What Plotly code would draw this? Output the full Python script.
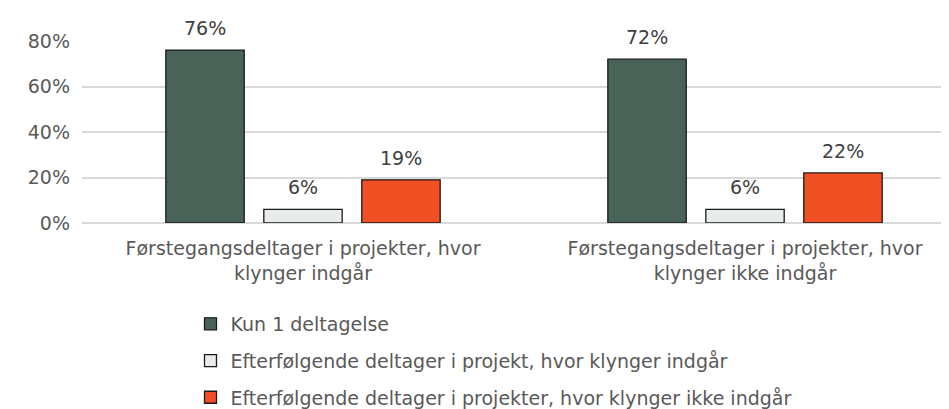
import plotly.graph_objects as go

categories = ["Førstegangsdeltager i projekter, hvor<br>klynger indgår",
              "Førstegangsdeltager i projekter, hvor<br>klynger ikke indgår"]
series_names = ["Kun 1 deltagelse",
                "Efterfølgende deltager i projekt, hvor klynger indgår",
                "Efterfølgende deltager i projekter, hvor klynger ikke indgår"]
kun1 = [0.76, 0.72]
eft_ind = [0.06, 0.06]
eft_ikke = [0.19, 0.22]
colors = ["#4A6358", "#E8ECEA", "#F05023"]
tick_vals = [0, 0.2, 0.4, 0.6, 0.8]
tick_text = ["0%", "20%", "40%", "60%", "80%"]

FONT = "DejaVu Sans"
FS = 19
W, H = 949, 409
ML, MR, MT, MB = 74, 0, 33, 187
BARGAP, GROUPGAP = 0.335, 0.2
XRANGE = [-0.5, 1.4796]

fig = go.Figure()
all_vals = [kun1, eft_ind, eft_ikke]
for i, (name, vals) in enumerate(zip(series_names, all_vals)):
    fig.add_trace(go.Bar(
        x=categories, y=vals, name=name,
        marker=dict(color=colors[i], line=dict(color="#1a1a1a", width=1.3)),
        legendgroup=f"g{i}",
    ))

# data labels: offset of each series within its group, in pixels
px_per_cat = (W - ML - MR) / (XRANGE[1] - XRANGE[0])
slot = px_per_cat * (1 - BARGAP) / len(all_vals)
for i, vals in enumerate(all_vals):
    for c, v in zip(categories, vals):
        fig.add_annotation(
            x=c, y=v, xref="x", yref="y", text=f"{round(v*100)}%",
            showarrow=False, yanchor="bottom", yshift=9,
            xshift=(i - 1) * slot,
            font=dict(family=FONT, size=FS, color="#404040"),
        )

fig.update_layout(
    width=W, height=H,
    margin=dict(l=ML, r=MR, t=MT, b=MB),
    paper_bgcolor="white", plot_bgcolor="white",
    barmode="group", bargap=BARGAP, bargroupgap=GROUPGAP,
    font=dict(family=FONT, size=FS, color="#595959"),
    xaxis=dict(range=XRANGE, showgrid=False, showline=False, tickangle=0,
               tickfont=dict(family=FONT, size=FS, color="#595959"),
               ticks="", ticklabelstandoff=12),
    yaxis=dict(range=[0, 0.8], tickvals=tick_vals, ticktext=tick_text,
               showgrid=True, gridcolor="#D9D9D9", gridwidth=1.5,
               zeroline=True, zerolinecolor="#D9D9D9", zerolinewidth=1.5,
               tickfont=dict(family=FONT, size=FS, color="#595959"),
               ticklabelstandoff=11),
    legend=dict(x=0.124, y=-0.451, xanchor="left", yanchor="top",
                orientation="v", traceorder="grouped", tracegroupgap=9,
                font=dict(family=FONT, size=FS, color="#595959"),
                bgcolor="rgba(0,0,0,0)"),
    showlegend=True,
)
fig.write_html("out.html")
